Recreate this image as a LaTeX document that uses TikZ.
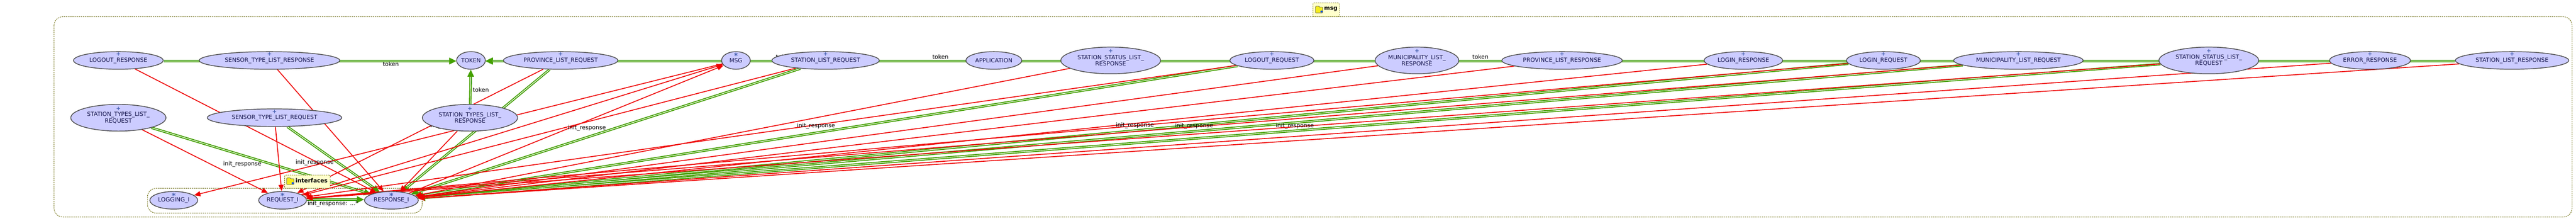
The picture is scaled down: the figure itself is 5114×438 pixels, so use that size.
\documentclass[tikz,border=0pt]{standalone}
\usepackage{fontspec}
\setmainfont{DejaVu Sans}
\usetikzlibrary{shapes.geometric,arrows.meta}
\definecolor{framec}{HTML}{666600}
\definecolor{nodefill}{HTML}{CCCCFF}
\definecolor{nodeline}{HTML}{4D4D4D}
\definecolor{nodetext}{HTML}{16164F}
\definecolor{markc}{HTML}{4560B0}
\definecolor{greenc}{HTML}{44A000}
\definecolor{redc}{HTML}{EE0000}
\definecolor{tabfill}{HTML}{FFFFCC}
\definecolor{folderfill}{HTML}{F4EC1A}
\pgfdeclarelayer{edges}
\pgfsetlayers{edges,main}
\tikzset{
  msgnode/.style={ellipse,draw=nodeline,line width=1.5pt,fill=nodefill,inner sep=0pt,align=center,
    text=nodetext,font=\fontsize{11.4}{12.7}\selectfont},
  plusmark/.style={inner sep=0pt,text=markc,font=\fontsize{11}{11}\selectfont\bfseries},
  starmark/.style={inner sep=0pt,text=markc,font=\fontsize{15}{15}\selectfont\bfseries},
  frameline/.style={draw=framec,line width=0.9pt,dash pattern=on 2.6pt off 1.6pt,rounded corners=17pt},
  tabbox/.style={draw=framec,line width=0.8pt,dash pattern=on 2.6pt off 1.6pt,fill=tabfill,rounded corners=2pt},
  tabtext/.style={inner sep=0pt,font=\fontsize{11.2}{12}\selectfont\bfseries,text=black},
  greenedge/.style={draw=greenc,line width=1.9pt,double=white,double distance=1.1pt,
    -{Triangle[length=14pt,width=13pt,fill=greenc]}},
  rededge/.style={draw=redc,line width=1.7pt,-{Triangle[length=12.5pt,width=10pt,fill=redc]}},
  edgelabel/.style={inner sep=0pt,text=black,font=\fontsize{11.4}{12}\selectfont},
}
\newcommand{\folderat}[2]{%
  \begin{scope}[shift={(#1,#2)}]
    \path[draw=black!70!yellow,fill=folderfill,line width=0.8pt,rounded corners=1pt]
      (0,2) -- (1,0) -- (7,0) -- (8.5,2) -- (14.6,2) -- (14.6,13.4) -- (0,13.4) -- cycle;
    \path[fill=blue!70!cyan] (12,10.6) circle (2.1);
  \end{scope}}
\begin{document}
\begin{tikzpicture}[x=1pt,y=-1pt]
\useasboundingbox (0,0) rectangle (5114,438);
% row 1
\node[msgnode,minimum width=178pt,minimum height=35pt] (logoutresp) at (235,120) {LOGOUT\_RESPONSE};
\node[msgnode,minimum width=279pt,minimum height=35pt] (sensorresp) at (535,120) {SENSOR\_TYPE\_LIST\_RESPONSE};
\node[msgnode,minimum width=57pt,minimum height=35pt] (token) at (935,120) {TOKEN};
\node[msgnode,minimum width=227pt,minimum height=35pt] (provreq) at (1113,120) {PROVINCE\_LIST\_REQUEST};
\node[msgnode,minimum width=57pt,minimum height=35pt] (msgn) at (1461,120) {MSG};
\node[msgnode,minimum width=213pt,minimum height=35pt] (statlistreq) at (1639,120) {STATION\_LIST\_REQUEST};
\node[msgnode,minimum width=111pt,minimum height=35pt] (app) at (1973,120) {APPLICATION};
\node[msgnode,minimum width=198pt,minimum height=53pt] (statstatresp) at (2205,120) {STATION\_STATUS\_LIST\_\\RESPONSE};
\node[msgnode,minimum width=167pt,minimum height=35pt] (logoutreq) at (2525,120) {LOGOUT\_REQUEST};
\node[msgnode,minimum width=166pt,minimum height=53pt] (muniresp) at (2813,120) {MUNICIPALITY\_LIST\_\\RESPONSE};
\node[msgnode,minimum width=239pt,minimum height=35pt] (provresp) at (3101,120) {PROVINCE\_LIST\_RESPONSE};
\node[msgnode,minimum width=156pt,minimum height=35pt] (loginresp) at (3461,120) {LOGIN\_RESPONSE};
\node[msgnode,minimum width=147pt,minimum height=35pt] (loginreq) at (3739,120) {LOGIN\_REQUEST};
\node[msgnode,minimum width=257pt,minimum height=35pt] (munireq) at (4007,120) {MUNICIPALITY\_LIST\_REQUEST};
\node[msgnode,minimum width=198pt,minimum height=53pt] (statstatreq) at (4385,120) {STATION\_STATUS\_LIST\_\\REQUEST};
\node[msgnode,minimum width=161pt,minimum height=35pt] (errresp) at (4705,120) {ERROR\_RESPONSE};
\node[msgnode,minimum width=225pt,minimum height=35pt] (statlistresp) at (4987,120) {STATION\_LIST\_RESPONSE};
% row 2
\node[msgnode,minimum width=189pt,minimum height=53pt] (typesreq) at (235,233.8) {STATION\_TYPES\_LIST\_\\REQUEST};
\node[msgnode,minimum width=267pt,minimum height=35pt] (sensorreq) at (545,233.7) {SENSOR\_TYPE\_LIST\_REQUEST};
\node[msgnode,minimum width=189pt,minimum height=53pt] (typesresp) at (933,233.8) {STATION\_TYPES\_LIST\_\\RESPONSE};
% row 3
\node[msgnode,minimum width=95pt,minimum height=35pt] (logging) at (345,397.7) {LOGGING\_I};
\node[msgnode,minimum width=95pt,minimum height=35pt] (request) at (561,397.7) {REQUEST\_I};
\node[msgnode,minimum width=107pt,minimum height=35pt] (response) at (777,397.7) {RESPONSE\_I};
% marks
\foreach \n/\x/\y in {logoutresp/235/107.7,sensorresp/535/107.7,provreq/1113/107.7,statlistreq/1639/107.7,
  statstatresp/2205/101.7,logoutreq/2525/107.7,muniresp/2813/101.7,provresp/3101/107.7,loginresp/3461/107.7,
  loginreq/3739/107.7,munireq/4007/107.7,statstatreq/4385/101.7,errresp/4705/107.7,statlistresp/4987/107.7,
  typesreq/235/216,sensorreq/545/221.7,typesresp/933/216}
  \node[plusmark] (\n-mark) at (\x,\y) {+};
\foreach \n/\x/\y in {msgn/1461/110.5,logging/345/388.3,request/561/388.3,response/777/388.3}
  \node[starmark] (\n-mark) at (\x,\y) {*};
% tabs
\node[tabbox,minimum width=52.7pt,minimum height=27.3pt,inner sep=0pt] (msgtab) at (2632.6,19.6) {};
\folderat{2611.4}{12.3}
\node[tabtext,anchor=west] (msgtabt) at (2628.6,17.7) {msg};
\node[tabbox,minimum width=90.6pt,minimum height=26.3pt,inner sep=0pt] (iftab) at (610.3,360.8) {};
\folderat{569}{353}
\node[tabtext,anchor=west] (iftabt) at (586.5,358) {interfaces};
\begin{pgfonlayer}{edges}
\fill[white] (0,0) rectangle (5114,438);
\draw[frameline] (107.3,33.3) rectangle (5106,430.7);
\draw[frameline] (292.8,374) rectangle (838,423);
% token chain
\foreach \a in {logoutresp,sensorresp}
  \draw[greenedge] ([yshift=-1.2pt]\a.east) -- ([yshift=-1.2pt]token.west);
\foreach \a in {provreq,statlistreq,app,statstatresp,logoutreq,muniresp,provresp,loginresp,loginreq,munireq,statstatreq,errresp,statlistresp}
  \draw[greenedge] ([yshift=-1.2pt]\a.west) -- ([yshift=-1.2pt]token.east);
\draw[greenedge] (typesresp) -- (token);
% init_response
\foreach \a in {typesreq,sensorreq,provreq,statlistreq,logoutreq,loginreq,munireq,statstatreq}
  \draw[greenedge] (\a) -- (response);
\draw[greenedge] ([yshift=1.5pt]request.east) -- ([yshift=1.5pt]response.west);
% red
\foreach \a in {typesreq,sensorreq,provreq,statlistreq,logoutreq,loginreq,munireq,statstatreq}
  \draw[rededge] (\a) -- (request);
\foreach \a in {logoutresp,sensorresp,typesresp,statstatresp,muniresp,provresp,loginresp,errresp,statlistresp}
  \draw[rededge] (\a) -- (response);
\draw[rededge] (msgn) -- (logging);
\draw[rededge] (request) -- (msgn);
\draw[rededge] (response) -- (msgn);
% labels
\foreach \x/\y in {776/126.7,954.5/178,1556/112.5,1867/113,2939/113}
  \node[edgelabel] at (\x,\y) {token};
\foreach \x/\y in {481/326,624.6/323,890/250,1165/254,1620/250.3,2253/249.3,2370.5/250.3,2570.5/250.6}
  \node[edgelabel] at (\x,\y) {init\_response};
\node[edgelabel] at (661,404.5) {init\_response: ...*};
\end{pgfonlayer}
\end{tikzpicture}
\end{document}
